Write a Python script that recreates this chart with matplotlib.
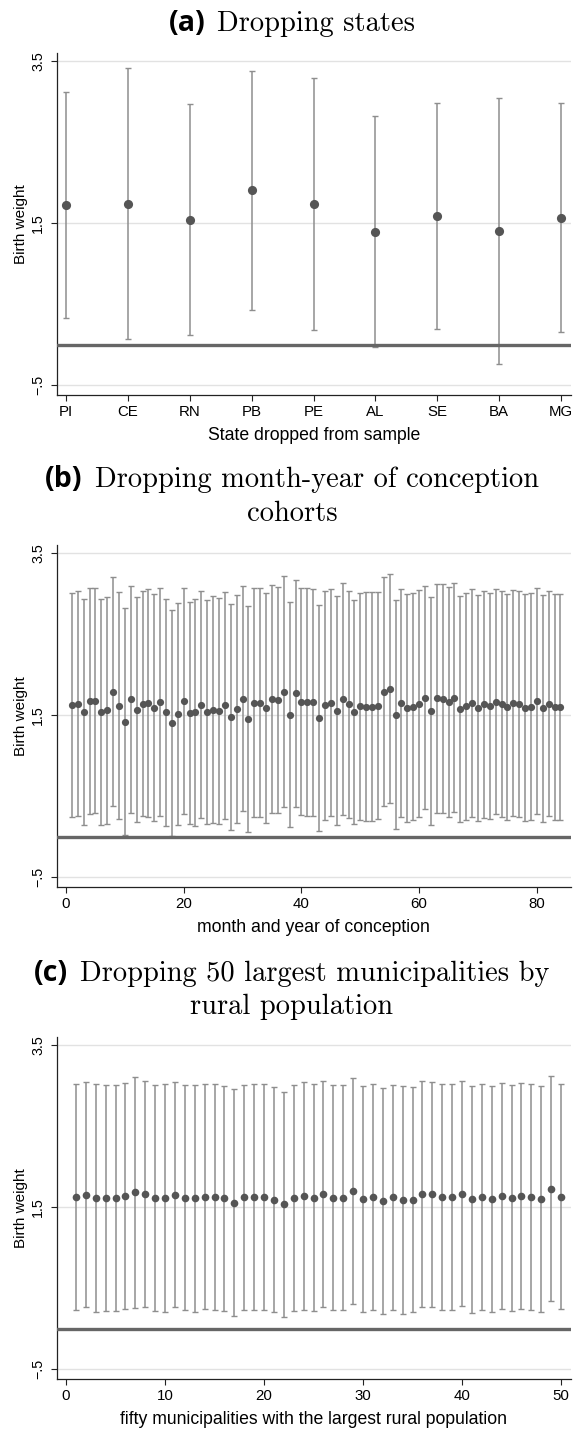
import matplotlib
matplotlib.use('Agg')
import matplotlib.pyplot as plt

W, H, DPI = 574, 1430, 100

# ---------------- data ----------------
states = ['PI', 'CE', 'RN', 'PB', 'PE', 'AL', 'SE', 'BA', 'MG']
coef_states = [1.722, 1.739, 1.545, 1.907, 1.739, 1.397, 1.591, 1.401, 1.570]
ci_half_states = [1.397, 1.671, 1.430, 1.473, 1.551, 1.422, 1.397, 1.640, 1.418]

months = list(range(1, 85))
coef_months = [
    1.628, 1.644, 1.541, 1.677, 1.681, 1.537, 1.562, 1.792, 1.619, 1.422,
    1.698, 1.570, 1.644, 1.652, 1.595, 1.665, 1.537, 1.401, 1.512, 1.677,
    1.525, 1.537, 1.632, 1.537, 1.570, 1.549, 1.623, 1.479, 1.574, 1.706,
    1.455, 1.656, 1.656, 1.586, 1.702, 1.685, 1.792, 1.508, 1.772, 1.669,
    1.665, 1.660, 1.471, 1.623, 1.656, 1.558, 1.702, 1.636, 1.537, 1.611,
    1.607, 1.607, 1.615, 1.792, 1.829, 1.508, 1.652, 1.595, 1.607, 1.644,
    1.714, 1.558, 1.710, 1.706, 1.665, 1.714, 1.574, 1.611, 1.652, 1.586,
    1.636, 1.615, 1.665, 1.640, 1.603, 1.652, 1.636, 1.595, 1.607, 1.681,
    1.586, 1.644, 1.603, 1.603]
ci_half_months = [
    1.389, 1.393, 1.397, 1.399, 1.395, 1.399, 1.403, 1.420, 1.399, 1.405,
    1.403, 1.387, 1.387, 1.405, 1.405, 1.407, 1.405, 1.395, 1.370, 1.399,
    1.370, 1.405, 1.405, 1.387, 1.399, 1.397, 1.403, 1.399, 1.412, 1.387,
    1.393, 1.416, 1.420, 1.420, 1.405, 1.399, 1.424, 1.387, 1.403, 1.407,
    1.407, 1.407, 1.397, 1.416, 1.403, 1.413, 1.434, 1.401, 1.385, 1.403,
    1.413, 1.413, 1.403, 1.416, 1.413, 1.418, 1.409, 1.409, 1.403, 1.401,
    1.379, 1.409, 1.413, 1.413, 1.426, 1.416, 1.395, 1.403, 1.407, 1.399,
    1.403, 1.401, 1.391, 1.399, 1.401, 1.397, 1.395, 1.399, 1.403, 1.397,
    1.401, 1.393, 1.399, 1.395]

munis = list(range(1, 51))
coef_munis = [
    1.623, 1.656, 1.619, 1.619, 1.611, 1.640, 1.685, 1.665, 1.611, 1.611,
    1.656, 1.619, 1.611, 1.632, 1.632, 1.611, 1.558, 1.623, 1.628, 1.628,
    1.595, 1.537, 1.619, 1.636, 1.619, 1.665, 1.619, 1.619, 1.702, 1.603,
    1.623, 1.578, 1.623, 1.591, 1.595, 1.660, 1.660, 1.632, 1.623, 1.669,
    1.599, 1.628, 1.603, 1.640, 1.619, 1.640, 1.628, 1.603, 1.730, 1.632]
ci_half_munis = [
    1.395, 1.391, 1.407, 1.395, 1.397, 1.399, 1.424, 1.393, 1.393, 1.407,
    1.393, 1.393, 1.401, 1.391, 1.395, 1.391, 1.397, 1.393, 1.397, 1.393,
    1.393, 1.389, 1.397, 1.407, 1.399, 1.391, 1.393, 1.393, 1.395, 1.393,
    1.395, 1.393, 1.393, 1.403, 1.393, 1.397, 1.391, 1.395, 1.395, 1.391,
    1.399, 1.395, 1.397, 1.399, 1.395, 1.397, 1.399, 1.395, 1.387, 1.393]

yticks = [-0.5, 1.5, 3.5]
ytick_labels = ['\u2212.5', '1.5', '3.5']
month_ticks = [0, 20, 40, 60, 80]
muni_ticks = [0, 10, 20, 30, 40, 50]

titles = [
    ('(a)', ['Dropping states']),
    ('(b)', ['Dropping month-year of conception', 'cohorts']),
    ('(c)', ['Dropping 50 largest municipalities by', 'rural population']),
]
xlabels = ['State dropped from sample', 'month and year of conception',
           'fifty municipalities with the largest rural population']

# ---------------- style ----------------
SANS = ['Liberation Sans', 'DejaVu Sans']
DOT = '#555555'
BAR = '#8e8e8e'
ZERO = '#666666'
GRID = '#e2e2e2'
TS = 20.5  # title size (pt)

fig = plt.figure(figsize=(W / DPI, H / DPI), dpi=DPI)
fig.patch.set_facecolor('white')

left_px, right_px = 56.7, 571.0
axes_px = [(52.7, 395.0), (545.0, 886.7), (1036.8, 1379.0)]
title_base = [[31.0], [487.0], [981.0]]
title_base = [[31.0], [487.0, 521.5], [981.0, 1014.0]]
xlims = [(0.85, 9.16), (-1.58, 85.8), (-0.94, 51.0)]

renderer = fig.canvas.get_renderer()


def draw_title(prefix, lines, baselines, cx=292.0):
    t_pre = fig.text(0, 0, prefix, fontfamily=['Open Sans', 'DejaVu Sans'],
                     fontweight='bold', fontsize=TS, va='baseline', ha='left')
    t_main = fig.text(0, 0, lines[0], fontfamily='cmr10', fontsize=TS,
                      va='baseline', ha='left')
    w1 = t_pre.get_window_extent(renderer).width
    w2 = t_main.get_window_extent(renderer).width
    gap = 12
    x0 = cx - (w1 + gap + w2) / 2
    y = 1 - baselines[0] / H
    t_pre.set_position((x0 / W, y))
    t_main.set_position(((x0 + w1 + gap) / W, y))
    for line, b in zip(lines[1:], baselines[1:]):
        fig.text(cx / W, 1 - b / H, line, fontfamily='cmr10', fontsize=TS,
                 va='baseline', ha='center')


panels = [
    (list(range(1, 10)), coef_states, ci_half_states, 6.6, 2.5),
    (months, coef_months, ci_half_months, 5.2, 2.0),
    (munis, coef_munis, ci_half_munis, 5.5, 2.0),
]

for i, ((x, coef, hw, ms, cap), (top, bot)) in enumerate(zip(panels, axes_px)):
    ax = fig.add_axes([left_px / W, 1 - bot / H, (right_px - left_px) / W,
                       (bot - top) / H])
    ax.set_facecolor('white')
    ax.errorbar(x, coef, yerr=hw, fmt='none', ecolor=BAR, elinewidth=1.1,
                capsize=cap, capthick=1.0, zorder=2)
    ax.axhline(0, color=ZERO, lw=2.4, zorder=3)
    ax.plot(x, coef, 'o', color=DOT, ms=ms, mec='none', zorder=4)

    ax.set_ylim(-0.62, 3.605)
    ax.set_xlim(*xlims[i])
    ax.set_yticks(yticks)
    ax.set_yticklabels(ytick_labels, rotation=90, va='center',
                       fontfamily=SANS, fontsize=10.3)
    ax.yaxis.grid(True, color=GRID, lw=1.0)
    ax.set_axisbelow(True)

    if i == 0:
        ax.set_xticks(x)
        ax.set_xticklabels(states, fontfamily=SANS, fontsize=10.8)
    elif i == 1:
        ax.set_xticks(month_ticks)
        ax.set_xticklabels([str(t) for t in month_ticks], fontfamily=SANS, fontsize=10.8)
    else:
        ax.set_xticks(muni_ticks)
        ax.set_xticklabels([str(t) for t in muni_ticks], fontfamily=SANS, fontsize=10.8)

    for s in ['top', 'right']:
        ax.spines[s].set_visible(False)
    for s in ['left', 'bottom']:
        ax.spines[s].set_color('#222222')
        ax.spines[s].set_linewidth(0.9)
    ax.tick_params(axis='both', direction='out', length=4.3, width=0.8,
                   color='#222222', pad=3)
    ax.tick_params(axis='y', pad=4)

    h_px = bot - top
    ax.set_ylabel('Birth weight', fontfamily=SANS, fontsize=11, va='center')
    ax.yaxis.set_label_coords((21 - left_px) / (right_px - left_px), 0.5)
    ax.set_xlabel(xlabels[i], fontfamily=SANS, fontsize=12.7, va='center')
    ax.xaxis.set_label_coords(0.5, -41 / h_px)

    draw_title(titles[i][0], titles[i][1], title_base[i])

fig.savefig('out.png', dpi=DPI, facecolor='white')
